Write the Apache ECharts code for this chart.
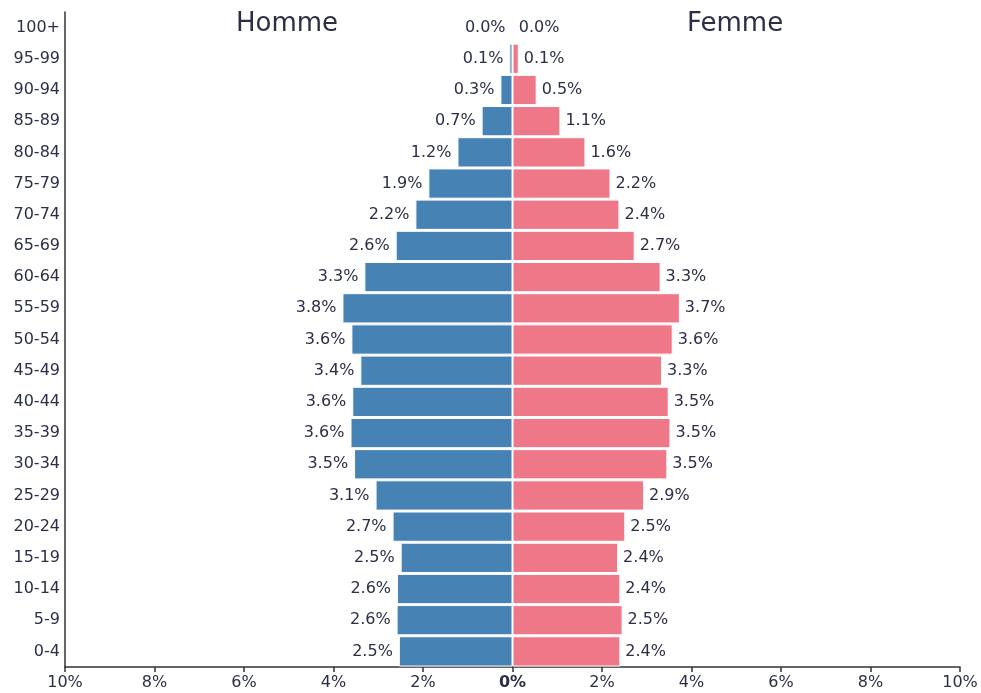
<!DOCTYPE html>
<html>
<head>
<meta charset="utf-8">
<script src="https://cdn.jsdelivr.net/npm/echarts@6/dist/echarts.min.js"></script>
<style>
  html, body { margin: 0; padding: 0; background: #fff; }
  #chart { width: 981px; height: 693px; }
</style>
</head>
<body>
<div id="chart"></div>
<script>
// tranches d'âge, du bas vers le haut
var ageGroups = ["0-4", "5-9", "10-14", "15-19", "20-24", "25-29", "30-34", "35-39", "40-44", "45-49",
  "50-54", "55-59", "60-64", "65-69", "70-74", "75-79", "80-84", "85-89", "90-94", "95-99", "100+"];
// % de la population
var homme = [2.54, 2.59, 2.58, 2.50, 2.68, 3.06, 3.54, 3.62, 3.58, 3.40,
  3.60, 3.80, 3.31, 2.61, 2.17, 1.88, 1.23, 0.69, 0.27, 0.07, 0.02];
var femme = [2.41, 2.46, 2.41, 2.36, 2.52, 2.94, 3.46, 3.53, 3.49, 3.34,
  3.58, 3.74, 3.31, 2.73, 2.39, 2.19, 1.63, 1.07, 0.54, 0.14, 0.03];
var xTicks = [-10, -8, -6, -4, -2, 0, 2, 4, 6, 8, 10];

var textColor = "#2b2f45";
var font = "DejaVu Sans";

var chart = echarts.init(document.getElementById("chart"));
var option = {
  animation: false,
  textStyle: { fontFamily: font },
  title: [
    { text: "Homme", left: 231, top: 6, textStyle: { fontFamily: font, fontSize: 26, fontWeight: "normal", color: textColor } },
    { text: "Femme", left: 682, top: 6, textStyle: { fontFamily: font, fontSize: 26, fontWeight: "normal", color: textColor } }
  ],
  grid: { left: 65, right: 21, top: 12, bottom: 26, containLabel: false },
  xAxis: {
    type: "value",
    min: xTicks[0],
    max: xTicks[xTicks.length - 1],
    interval: 2,
    splitLine: { show: false },
    axisLine: { show: true, onZero: false, lineStyle: { color: "#333", width: 1.5 } },
    axisTick: { show: true, length: 5, lineStyle: { color: "#333", width: 1.5 } },
    axisLabel: {
      color: textColor,
      fontSize: 16,
      margin: 8,
      formatter: function (v) {
        return v === 0 ? "{b|0%}" : Math.abs(v) + "%";
      },
      rich: { b: { fontWeight: "bold", fontSize: 16, color: textColor, fontFamily: font } }
    }
  },
  yAxis: {
    type: "category",
    data: ageGroups,
    axisLine: { show: true, onZero: false, lineStyle: { color: "#333", width: 1.5 } },
    axisTick: { show: false },
    axisLabel: { color: textColor, fontSize: 16, margin: 5 }
  },
  series: [
    {
      name: "Homme",
      type: "bar",
      stack: "pop",
      data: homme.map(function (v) { return -v; }),
      barCategoryGap: "3%",
      itemStyle: { color: "#4682b4", borderColor: "#fff", borderWidth: 1 },
      label: {
        show: true,
        position: "left",
        distance: 6,
        color: textColor,
        fontSize: 16,
        formatter: function (p) { return Math.abs(p.value).toFixed(1) + "%"; }
      }
    },
    {
      name: "Femme",
      type: "bar",
      stack: "pop",
      data: femme,
      barCategoryGap: "3%",
      itemStyle: { color: "#ef7888", borderColor: "#fff", borderWidth: 1 },
      label: {
        show: true,
        position: "right",
        distance: 5,
        color: textColor,
        fontSize: 16,
        formatter: function (p) { return p.value.toFixed(1) + "%"; }
      }
    }
  ]
};
chart.setOption(option);
</script>
</body>
</html>
